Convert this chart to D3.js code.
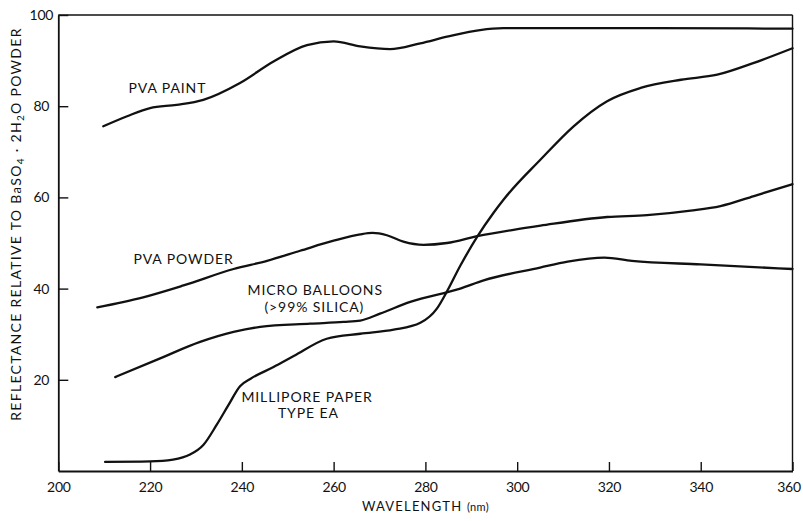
<!DOCTYPE html>
<html>
<head>
<meta charset="utf-8">
<script src="https://cdn.jsdelivr.net/npm/d3@7"></script>
<style>
  html, body { margin: 0; padding: 0; background: #fff; }
  svg { display: block; }
  text { font-family: Lato, "Open Sans", sans-serif; fill: #111; }
</style>
</head>
<body>
<svg id="chart" width="803" height="521"></svg>
<script>
// ---- data ----
const xTicks = [200, 220, 240, 260, 280, 300, 320, 340, 360];
const yTicks = [20, 40, 60, 80, 100];

const pvaPaintWl  = [209.8, 215, 220, 225.8, 231.6, 239.6, 246.9, 254.2, 260, 265.8, 272.3, 278.9, 285, 291.9, 297, 310, 330, 360];
const pvaPaintVal = [75.6, 77.8, 79.6, 80.3, 81.4, 85.1, 89.8, 93.4, 94.2, 93.1, 92.5, 93.8, 95.3, 96.7, 97.1, 97.1, 97.1, 97.0];

const pvaPowderWl  = [208.5, 218.5, 227.3, 238.2, 245.5, 252.7, 260, 265.8, 268.5, 271.6, 275.2, 279.6, 284.7, 291.3, 299.2, 305.1, 319.6, 328.3, 337.8, 344.3, 351.6, 360];
const pvaPowderVal = [35.9, 38.1, 40.7, 44.3, 46.1, 48.3, 50.5, 51.9, 52.2, 51.7, 50.3, 49.6, 50.0, 51.5, 52.9, 53.8, 55.7, 56.1, 57.1, 58.1, 60.3, 62.9];

const microWl  = [212.4, 222.2, 230.9, 238.2, 244, 254.9, 262.2, 265.8, 270.1, 276.7, 287.6, 292.7, 305, 311, 319, 325, 340, 360];
const microVal = [20.6, 24.7, 28.3, 30.5, 31.6, 32.3, 32.7, 33.0, 34.5, 37.1, 40.0, 41.8, 44.6, 45.9, 46.8, 46.1, 45.3, 44.3];

const milliporeWl  = [210.2, 220, 225, 228.7, 231.6, 234.5, 237.1, 239.6, 242, 246.9, 251.3, 258.5, 265.8, 273.1, 278.9, 282.5, 284.5, 287.6, 291.3, 294.9, 297.1, 305.1, 312.3, 319.6, 326.9, 335.7, 343.6, 351.6, 360];
const milliporeVal = [2.0, 2.1, 2.5, 3.6, 5.7, 10.1, 14.5, 18.6, 20.3, 22.8, 25.2, 29.0, 30.1, 31.0, 32.5, 35.6, 39.0, 45.0, 51.4, 56.7, 59.6, 68.3, 75.6, 81.1, 84.0, 85.8, 86.9, 89.5, 92.7];

// curve labels: [text, wavelength (centre), reflectance (baseline)]
const labelText = ["PVA PAINT", "PVA POWDER", "MICRO BALLOONS", "(>99% SILICA)", "MILLIPORE PAPER", "TYPE EA"];
const labelWl   = [223.8, 227.3, 256.0, 255.8, 254.2, 254.5];
const labelVal  = [83.0, 45.4, 38.5, 34.9, 15.1, 11.6];

// ---- layout ----
const svg = d3.select("#chart");
const mLeft = 58.3, mRight = 792.5, mTop = 15, mBottom = 471;

const x = d3.scaleLinear().domain([200, 360]).range([mLeft, mRight]);
const y = d3.scaleLinear().domain([0, 100]).range([mBottom, mTop]);

// frame: top and right borders
svg.append("line").attr("x1", mLeft).attr("x2", mRight).attr("y1", mTop).attr("y2", mTop)
  .attr("stroke", "#111").attr("stroke-width", 1.6);
svg.append("line").attr("x1", mRight).attr("x2", mRight).attr("y1", mTop).attr("y2", mBottom)
  .attr("stroke", "#111").attr("stroke-width", 1.4);

// x axis
const gx = svg.append("g").attr("transform", `translate(0,${mBottom})`)
  .call(d3.axisBottom(x).tickValues(xTicks).tickFormat(d3.format("d"))
    .tickSizeInner(-9).tickSizeOuter(0).tickPadding(11));
gx.select(".domain").attr("stroke", "#111").attr("stroke-width", 1.8);
gx.selectAll(".tick line").attr("stroke", "#111").attr("stroke-width", 1.4);
gx.selectAll(".tick text").attr("font-size", 14).attr("font-family", "Lato, sans-serif").attr("fill", "#111")
  .attr("letter-spacing", -0.3)
  .attr("dx", d => d === 360 ? -4 : 0);

// y axis
const gy = svg.append("g").attr("transform", `translate(${mLeft},0)`)
  .call(d3.axisLeft(y).tickValues(yTicks).tickFormat(d3.format("d"))
    .tickSizeInner(-10).tickSizeOuter(0).tickPadding(17));
gy.select(".domain").attr("stroke", "#111").attr("stroke-width", 1.8);
gy.selectAll(".tick line").attr("stroke", "#111").attr("stroke-width", 1.4);
gy.selectAll(".tick text").attr("font-size", 14).attr("font-family", "Lato, sans-serif").attr("fill", "#111")
  .attr("text-anchor", "middle").attr("letter-spacing", -0.3);

// axis titles
svg.append("text")
  .attr("x", x(280)).attr("y", 511)
  .attr("text-anchor", "middle").attr("font-size", 13).attr("letter-spacing", 1.2)
  .text("WAVELENGTH ")
  .append("tspan").attr("font-size", 11).attr("letter-spacing", 0.3).text(" (nm)");

const yl = svg.append("text")
  .attr("transform", `translate(21,224) rotate(-90)`)
  .attr("text-anchor", "middle").attr("font-size", 14).attr("letter-spacing", 1.3);
yl.append("tspan").text("REFLECTANCE RELATIVE TO B");
yl.append("tspan").attr("font-size", 13).text("a");
yl.append("tspan").text("SO");
yl.append("tspan").attr("font-size", 10).attr("dy", 3).text("4");
yl.append("tspan").attr("dy", -3).text(" · 2H");
yl.append("tspan").attr("font-size", 10).attr("dy", 3).text("2");
yl.append("tspan").attr("dy", -3).text("O POWDER");

// curves
const series = [
  [pvaPaintWl, pvaPaintVal],
  [pvaPowderWl, pvaPowderVal],
  [microWl, microVal],
  [milliporeWl, milliporeVal]
];
const line = d3.line().x(d => x(d[0])).y(d => y(d[1])).curve(d3.curveMonotoneX);
series.forEach(([wl, val]) => {
  svg.append("path")
    .datum(wl.map((w, i) => [w, val[i]]))
    .attr("fill", "none").attr("stroke", "#111").attr("stroke-width", 2.3)
    .attr("stroke-linejoin", "round").attr("stroke-linecap", "round")
    .attr("d", line);
});

// curve labels
svg.selectAll("text.lbl").data(labelText).enter().append("text")
  .attr("class", "lbl")
  .attr("x", (d, i) => x(labelWl[i]))
  .attr("y", (d, i) => y(labelVal[i]))
  .attr("text-anchor", "middle").attr("font-size", 14).attr("letter-spacing", 0.9)
  .text(d => d);
</script>
</body>
</html>
